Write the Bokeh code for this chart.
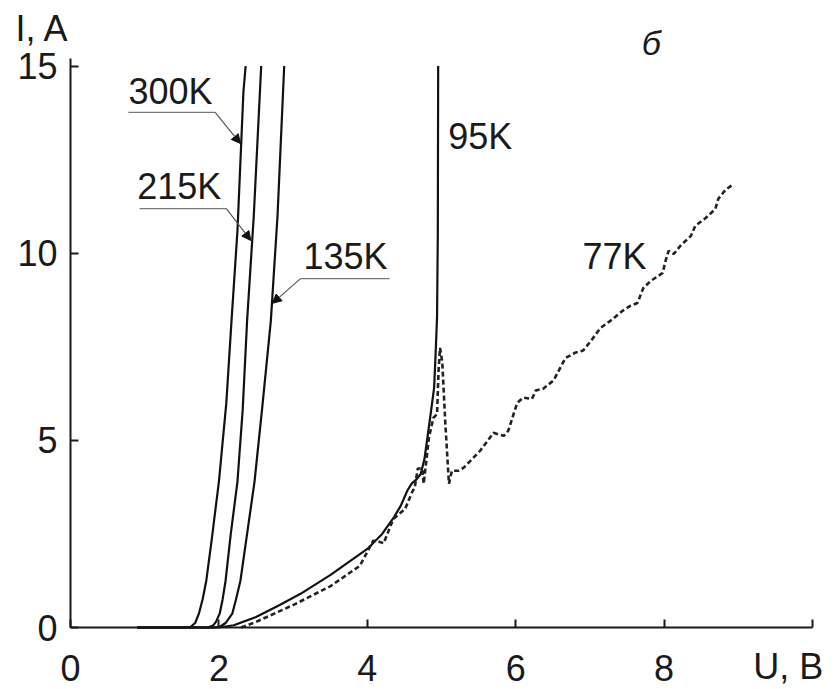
from bokeh.plotting import figure
from bokeh.models import Range1d, FixedTicker, Label, Arrow, NormalHead
from bokeh.embed import file_html
from bokeh.resources import INLINE

# ---- data (U in V, I in A) ----
u_300 = [0.9, 1.5, 1.62, 1.68, 1.73, 1.78, 1.83, 1.9, 2.0, 2.1, 2.17, 2.25, 2.33, 2.36]
i_300 = [0, 0, 0.02, 0.12, 0.37, 0.75, 1.25, 2.3, 3.9, 6.0, 8.2, 10.6, 14.3, 15.0]

u_215 = [0.9, 1.85, 1.92, 1.96, 2.01, 2.05, 2.09, 2.16, 2.25, 2.32, 2.38, 2.47, 2.57]
i_215 = [0, 0, 0.05, 0.15, 0.37, 0.75, 1.25, 2.5, 3.9, 5.8, 8.2, 11.0, 15.0]

u_135 = [0.9, 1.95, 2.03, 2.09, 2.18, 2.23, 2.29, 2.38, 2.48, 2.58, 2.7, 2.79, 2.88]
i_135 = [0, 0, 0.04, 0.12, 0.37, 0.75, 1.25, 2.5, 3.9, 5.8, 8.2, 11.0, 15.0]

u_95 = [0.9, 2.0, 2.2, 2.5, 2.8, 3.1, 3.5, 4.0, 4.2, 4.36, 4.45, 4.54, 4.6, 4.66,
        4.72, 4.77, 4.81, 4.86, 4.9, 4.92, 4.94, 4.95, 4.955]
i_95 = [0, 0, 0.06, 0.28, 0.58, 0.9, 1.4, 2.1, 2.5, 2.95, 3.25, 3.66, 3.85, 3.95,
        4.1, 4.5, 5.07, 5.8, 6.4, 7.3, 8.3, 10.5, 15.0]

u_77 = [2.3, 2.5, 3.0, 3.5, 3.9, 4.08, 4.15, 4.22, 4.35, 4.51, 4.6, 4.64, 4.68, 4.74,
        4.76, 4.83, 4.89, 4.94, 4.96, 4.98, 5.01, 5.05, 5.1, 5.14, 5.23, 5.3, 5.52,
        5.7, 5.84, 5.9, 6.02, 6.1, 6.22, 6.27, 6.37, 6.51, 6.67, 6.8, 6.91, 7.03,
        7.14, 7.28, 7.44, 7.55, 7.64, 7.72, 7.82, 7.98, 8.02, 8.06, 8.13, 8.22,
        8.36, 8.42, 8.56, 8.69, 8.73, 8.83, 8.94]
i_77 = [0, 0.15, 0.6, 1.1, 1.65, 2.32, 2.3, 2.25, 2.9, 3.17, 3.6, 3.75, 4.25, 4.25,
        3.84, 5.07, 5.6, 5.7, 6.86, 7.47, 7.1, 5.5, 3.84, 4.19, 4.19, 4.27, 4.72,
        5.2, 5.12, 5.26, 6.0, 6.14, 6.11, 6.33, 6.38, 6.6, 7.2, 7.34, 7.4, 7.7,
        8.0, 8.2, 8.46, 8.6, 8.67, 9.07, 9.26, 9.47, 9.8, 10.06, 9.98, 10.2,
        10.46, 10.73, 10.94, 11.18, 11.45, 11.7, 11.85]

x_ticks = [0, 2, 4, 6, 8, 10]
y_ticks = [0, 5, 10, 15]

FONT = "Liberation Sans"
FS = "36px"

# frame covers the whole canvas; axes are pinned at 0
p = figure(width=838, height=689, output_backend="svg", toolbar_location=None,
           x_range=Range1d(-0.9434, 10.350), y_range=Range1d(-1.656, 16.751),
           min_border=0)
p.outline_line_color = None
p.xgrid.visible = False
p.ygrid.visible = False
p.background_fill_color = "white"

for ax in (p.xaxis[0], p.yaxis[0]):
    ax.fixed_location = 0
    ax.axis_line_width = 2
    ax.axis_line_color = "#1a1a1a"
    ax.major_tick_in = 8
    ax.major_tick_out = 0
    ax.major_tick_line_width = 2
    ax.major_tick_line_color = "#1a1a1a"
    ax.minor_tick_line_color = None
    ax.major_label_text_font = FONT
    ax.major_label_text_font_size = FS
    ax.major_label_text_color = "#1a1a1a"

p.xaxis.ticker = FixedTicker(ticks=x_ticks)
p.xaxis.major_label_overrides = {10: ""}
p.xaxis.major_label_standoff = 27
p.xaxis.bounds = (0, 10)
p.yaxis.ticker = FixedTicker(ticks=y_ticks)
p.yaxis.major_label_standoff = 13
p.yaxis.bounds = (0, 15.2)

for u, i in ((u_300, i_300), (u_215, i_215), (u_135, i_135), (u_95, i_95)):
    p.line(u, i, line_color="#111111", line_width=2.2, line_join="round")
p.line(u_77, i_77, line_color="#222222", line_width=2.6, line_dash="5 3")

def lab(text, x, y, style="normal", size=FS):
    p.add_layout(Label(x=x, y=y, y_offset=12, text=text, text_font=FONT,
                       text_font_size=size, text_font_style=style,
                       text_color="#1a1a1a", text_baseline="alphabetic",
                       text_align="left"))

lab("300K", 0.78, 14.0)
lab("215K", 0.90, 11.46)
lab("135K", 3.14, 9.59)
lab("95K", 5.09, 12.8)
lab("77K", 6.9, 9.59)
lab("б", 7.7, 15.3, style="italic", size="34px")
lab("I, A", -0.74, 15.68)
lab("U, B", 9.20, -1.37)

# leader lines
for (xa, xb, y) in ((0.78, 1.95, 13.76), (0.93, 2.10, 11.19), (3.10, 4.30, 9.32)):
    p.line([xa, xb], [y, y], line_color="#777777", line_width=1.2)
for (xs, ys, xe, ye) in ((1.95, 13.76, 2.29, 12.93), (2.10, 11.19, 2.43, 10.34),
                         (3.10, 9.32, 2.72, 8.66)):
    p.add_layout(Arrow(x_start=xs, y_start=ys, x_end=xe, y_end=ye,
                       line_color="#555555", line_width=1.2,
                       end=NormalHead(size=9, fill_color="#111111", line_color="#111111")))

open("out.html", "w").write(file_html(p, INLINE))
